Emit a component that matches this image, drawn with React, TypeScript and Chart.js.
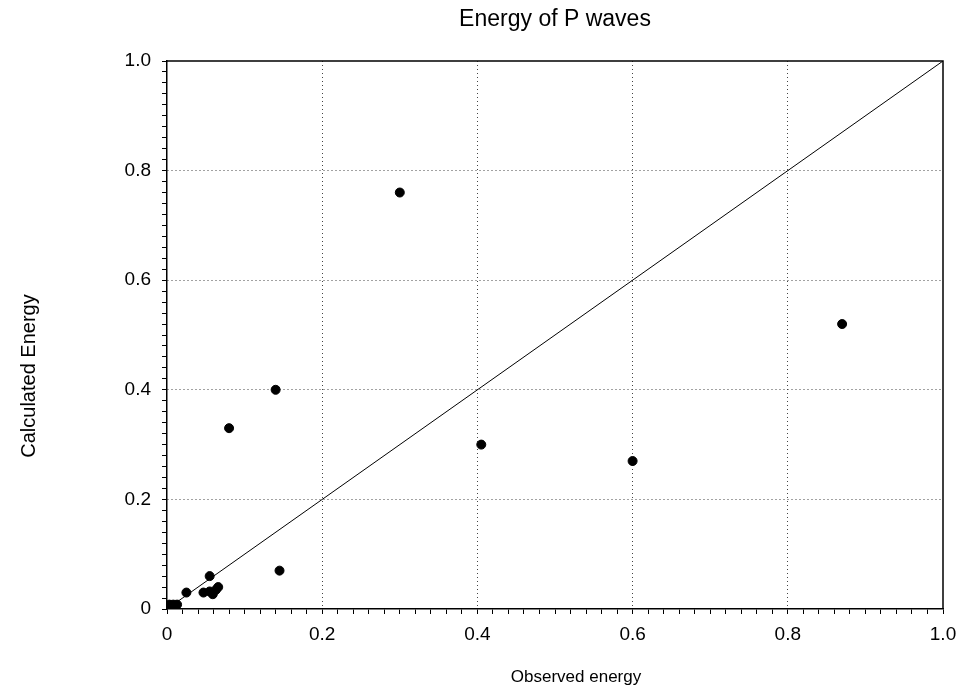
import React, { useEffect, useRef } from "react";
import { Chart, registerables } from "chart.js";

Chart.register(...registerables);

const observed = [0.30, 0.87, 0.14, 0.08, 0.405, 0.60, 0.145, 0.025, 0.055, 0.047, 0.059, 0.055, 0.063, 0.066, 0.003, 0.008, 0.013, 0.002];
const calculated = [0.76, 0.52, 0.40, 0.33, 0.30, 0.27, 0.07, 0.03, 0.06, 0.03, 0.027, 0.032, 0.035, 0.04, 0.008, 0.008, 0.008, 0.005];
const diagonalX = [0, 1];
const diagonalY = [0, 1];

const TITLE = "Energy of P waves";
const X_TITLE = "Observed energy";
const Y_TITLE = "Calculated Energy";

const isMajor = (v: number) => Math.round(v * 50) % 10 === 0;
const fmt = (v: number) => (Math.abs(v) < 1e-9 ? "0" : v.toFixed(1));

export default function App() {
  const ref = useRef<HTMLCanvasElement | null>(null);
  useEffect(() => {
    document.body.style.margin = "0";
    const ctx = ref.current!.getContext("2d")!;
    const font = "'Liberation Sans', Arial, Helvetica, sans-serif";
    const grid = {
      color: (c: any) => (isMajor(c.tick.value) && c.tick.value > 0.001 && c.tick.value < 0.999 ? "#444" : "rgba(0,0,0,0)"),
      lineWidth: 1,
      tickColor: "#000",
      tickLength: 5,
      drawTicks: true,
    };
    const chart = new Chart(ctx, {
      type: "scatter",
      data: {
        datasets: [
          {
            data: observed.map((x, i) => ({ x, y: calculated[i] })),
            backgroundColor: "#000",
            borderColor: "#000",
            pointRadius: 4.5,
            pointHoverRadius: 4.5,
          },
          {
            type: "line",
            data: diagonalX.map((x, i) => ({ x, y: diagonalY[i] })),
            borderColor: "#000",
            borderWidth: 1,
            pointRadius: 0,
            fill: false,
          } as any,
        ],
      },
      options: {
        animation: false,
        responsive: false,
        maintainAspectRatio: false,
        layout: { padding: { left: 0, right: 24, top: 0, bottom: 0 } },
        plugins: {
          legend: { display: false },
          tooltip: { enabled: false },
          title: {
            display: true,
            text: TITLE,
            fullSize: false,
            color: "#000",
            font: { family: font, size: 23, weight: "normal" },
            padding: { top: 6, bottom: 27.4 },
          },
        },
        scales: {
          x: {
            type: "linear",
            min: 0,
            max: 1,
            afterFit: (s: any) => {
              s.height = 85;
            },
            border: { display: true, color: "#000", width: 1.5, dash: [1, 3] },
            grid: grid as any,
            ticks: {
              stepSize: 0.02,
              maxTicksLimit: 100,
              autoSkip: false,
              maxRotation: 0,
              padding: 9,
              color: "#000",
              font: { family: font, size: 19 },
              callback: (v: any) => (isMajor(Number(v)) ? fmt(Number(v)) : ""),
            },
          },
          y: {
            type: "linear",
            min: 0,
            max: 1,
            afterFit: (s: any) => {
              s.width = 167;
            },
            border: { display: true, color: "#000", width: 1.5, dash: [1, 3] },
            grid: grid as any,
            ticks: {
              stepSize: 0.02,
              maxTicksLimit: 100,
              autoSkip: false,
              padding: 11,
              color: "#000",
              font: { family: font, size: 19 },
              callback: (v: any) => (isMajor(Number(v)) ? fmt(Number(v)) : ""),
            },
          },
        },
      },
      plugins: [
        {
          id: "frameAndTitles",
          afterDraw(c: any) {
            const { left, right, top, bottom } = c.chartArea;
            const g = c.ctx;
            g.save();
            g.strokeStyle = "#000";
            g.lineWidth = 1.5;
            g.beginPath();
            g.moveTo(left, top);
            g.lineTo(right, top);
            g.lineTo(right, bottom);
            g.stroke();
            g.fillStyle = "#000";
            g.textAlign = "center";
            g.textBaseline = "middle";
            g.font = `17px ${font}`;
            g.fillText(X_TITLE, 576, 677);
            g.translate(29, 376);
            g.rotate(-Math.PI / 2);
            g.font = `20px ${font}`;
            g.fillText(Y_TITLE, 0, 0);
            g.restore();
          },
        },
      ],
    });
    return () => chart.destroy();
  }, []);
  return (
    <div style={{ width: 967, height: 694 }}>
      <canvas ref={ref} width={967} height={694} style={{ width: 967, height: 694 }} />
    </div>
  );
}
